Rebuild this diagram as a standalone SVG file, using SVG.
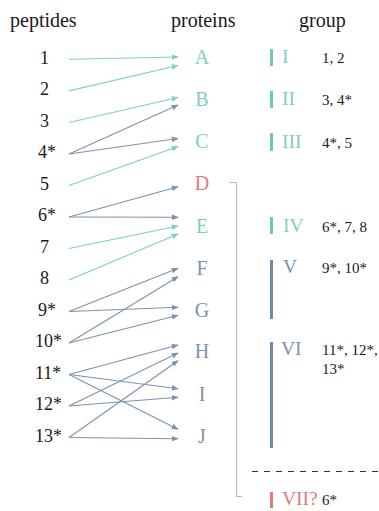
<svg xmlns="http://www.w3.org/2000/svg" width="379" height="511" viewBox="0 0 379 511" font-family="'Liberation Serif', 'DejaVu Serif', serif">
<style>
text{font-family:'Liberation Serif','DejaVu Serif',serif;fill:#1a1a1a}
.h{font-size:20px}
.pep{font-size:18px}
.prot{font-size:20px;text-anchor:middle}
.rom{font-size:19.5px}
.num{font-size:15px}
.teal{fill:#7fcfbd}
.slate{fill:#7b93ab}
.red{fill:#e07c7c}
.et{stroke:#7fcfbd;stroke-width:1.1;fill:none;marker-end:url(#mt)}
.es{stroke:#7b93ab;stroke-width:1.1;fill:none;marker-end:url(#ms)}
.bar{stroke-width:3}
</style>
<defs>
<marker id="mt" viewBox="0 0 10 10" refX="9" refY="5" markerWidth="7" markerHeight="7" markerUnits="userSpaceOnUse" orient="auto"><path d="M0,1 L10,5 L0,9 z" fill="#7fcfbd"/></marker>
<marker id="ms" viewBox="0 0 10 10" refX="9" refY="5" markerWidth="7" markerHeight="7" markerUnits="userSpaceOnUse" orient="auto"><path d="M0,1 L10,5 L0,9 z" fill="#7b93ab"/></marker>
</defs>
<g id="headers">
<text class="h" x="10" y="27">peptides</text>
<text class="h" x="171" y="27">proteins</text>
<text class="h" x="299" y="27">group</text>
</g>
<g id="peptides">
<text id="p1" class="pep" x="40" y="63.5">1</text>
<text id="p2" class="pep" x="40" y="95">2</text>
<text id="p3" class="pep" x="40" y="126.5">3</text>
<text id="p4" class="pep" x="38" y="158">4*</text>
<text id="p5" class="pep" x="40" y="190">5</text>
<text id="p6" class="pep" x="38" y="221">6*</text>
<text id="p7" class="pep" x="40" y="252.5">7</text>
<text id="p8" class="pep" x="40" y="284">8</text>
<text id="p9" class="pep" x="38" y="315.5">9*</text>
<text id="p10" class="pep" x="35" y="347">10*</text>
<text id="p11" class="pep" x="35" y="378.5">11*</text>
<text id="p12" class="pep" x="35" y="410">12*</text>
<text id="p13" class="pep" x="35" y="441.5">13*</text>
</g>
<g id="proteins">
<text id="A" class="prot teal" x="202" y="63.5">A</text>
<text id="B" class="prot teal" x="202" y="106">B</text>
<text id="C" class="prot teal" x="202" y="148">C</text>
<text id="D" class="prot red" x="202" y="190">D</text>
<text id="E" class="prot teal" x="202" y="232.5">E</text>
<text id="F" class="prot slate" x="202" y="274.5">F</text>
<text id="G" class="prot slate" x="202" y="316.5">G</text>
<text id="H" class="prot slate" x="202" y="358">H</text>
<text id="I" class="prot slate" x="202" y="400.5">I</text>
<text id="J" class="prot slate" x="202" y="443">J</text>
</g>
<g id="connectors">
<line class="et" x1="69" y1="59.3" x2="178" y2="57"/>
<line class="et" x1="69" y1="90.9" x2="178" y2="65.5"/>
<line class="et" x1="69" y1="122.5" x2="178" y2="97.5"/>
<line class="es" x1="69" y1="154" x2="178" y2="105"/>
<line class="es" x1="69" y1="154" x2="178" y2="138.5"/>
<line class="et" x1="69" y1="185.5" x2="178" y2="146.5"/>
<line class="es" x1="69" y1="217" x2="178" y2="186.7"/>
<line class="es" x1="69" y1="217" x2="178" y2="217.3"/>
<line class="et" x1="69" y1="248.5" x2="178" y2="226"/>
<line class="et" x1="69" y1="280" x2="178" y2="234"/>
<line class="es" x1="69" y1="311.5" x2="178" y2="268.3"/>
<line class="es" x1="69" y1="311.5" x2="178" y2="307.3"/>
<line class="es" x1="69" y1="343" x2="178" y2="276.7"/>
<line class="es" x1="69" y1="343" x2="178" y2="315.3"/>
<line class="es" x1="69" y1="374.5" x2="178" y2="345"/>
<line class="es" x1="69" y1="374.5" x2="178" y2="388.7"/>
<line class="es" x1="69" y1="374.5" x2="178" y2="429.3"/>
<line class="es" x1="69" y1="406" x2="178" y2="353"/>
<line class="es" x1="69" y1="406" x2="178" y2="397.3"/>
<line class="es" x1="69" y1="437.5" x2="178" y2="360.7"/>
<line class="es" x1="69" y1="437.5" x2="178" y2="438.7"/>
<path d="M229 182.5 H236.5 V496.5 H242" stroke="#bdbdbd" stroke-width="1.2" fill="none"/>
<line x1="252" y1="471.5" x2="379" y2="471.5" stroke="#333" stroke-width="1" stroke-dasharray="6,6"/>
</g>
<g id="group-I">
<line class="bar" x1="271.5" y1="49" x2="271.5" y2="66" stroke="#6fc7b3"/>
<text class="rom teal" x="282" y="63">I</text>
<text class="num" x="322" y="63">1, 2</text>
</g>
<g id="group-II">
<line class="bar" x1="271.5" y1="91" x2="271.5" y2="108" stroke="#6fc7b3"/>
<text class="rom teal" x="282" y="105">II</text>
<text class="num" x="322" y="105">3, 4*</text>
</g>
<g id="group-III">
<line class="bar" x1="271.5" y1="133" x2="271.5" y2="151" stroke="#6fc7b3"/>
<text class="rom teal" x="282" y="148">III</text>
<text class="num" x="322" y="148">4*, 5</text>
</g>
<g id="group-IV">
<line class="bar" x1="271.5" y1="217" x2="271.5" y2="234" stroke="#6fc7b3"/>
<text class="rom teal" x="283" y="231.5">IV</text>
<text class="num" x="322" y="231.5">6*, 7, 8</text>
</g>
<g id="group-V">
<line class="bar" x1="271.5" y1="260" x2="271.5" y2="319" stroke="#6f8aa3"/>
<text class="rom slate" x="283" y="273">V</text>
<text class="num" x="322" y="273">9*, 10*</text>
</g>
<g id="group-VI">
<line class="bar" x1="271.5" y1="342" x2="271.5" y2="448" stroke="#6f8aa3"/>
<text class="rom slate" x="281" y="355">VI</text>
<text class="num" x="322" y="355">11*, 12*,</text>
<text class="num" x="322" y="374">13*</text>
</g>
<g id="group-VII">
<line class="bar" x1="271.5" y1="492" x2="271.5" y2="508" stroke="#e07c7c"/>
<text class="rom red" x="282" y="505">VII?</text>
<text class="num" x="322" y="505">6*</text>
</g>
</svg>
